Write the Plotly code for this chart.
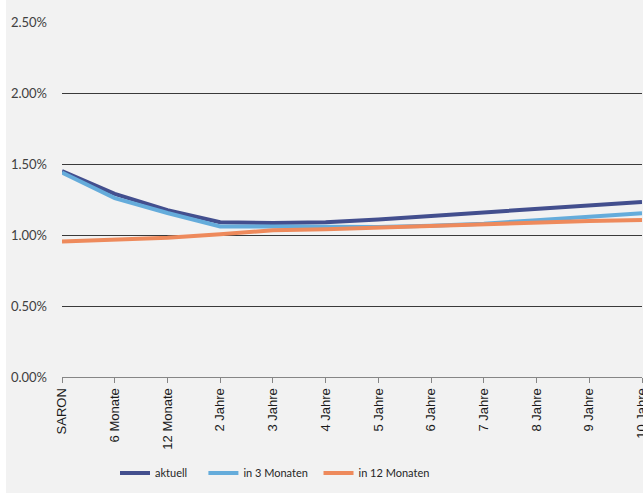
import plotly.graph_objects as go

categories = ["SARON", "6 Monate", "12 Monate", "2 Jahre", "3 Jahre", "4 Jahre",
              "5 Jahre", "6 Jahre", "7 Jahre", "8 Jahre", "9 Jahre", "10 Jahre"]
aktuell = [1.45, 1.29, 1.175, 1.09, 1.085, 1.09, 1.11, 1.134, 1.158, 1.18, 1.205, 1.233]
in_3_monaten = [1.44, 1.26, 1.155, 1.06, 1.06, 1.057, 1.056, 1.065, 1.08, 1.104, 1.127, 1.153]
in_12_monaten = [0.955, 0.965, 0.98, 1.005, 1.033, 1.04, 1.052, 1.065, 1.08, 1.092, 1.098, 1.105]
y_tick_values = [0, 0.5, 1.0, 1.5, 2.0, 2.5]
y_tick_labels = ["0.00%", "0.50%", "1.00%", "1.50%", "2.00%", "2.50%"]

series = [
    ("aktuell", aktuell, "#434f8e", 4),
    ("in 3 Monaten", in_3_monaten, "#65acdb", 2),
    ("in 12 Monaten", in_12_monaten, "#ee8a5c", 0),
]

xpos = list(range(len(categories)))

fig = go.Figure()
for name, vals, color, pad in series:
    fig.add_trace(go.Scatter(
        x=xpos, y=vals, name=name + "\u00a0" * pad, mode="lines",
        line=dict(color=color, width=4),
    ))

W, H = 643, 493
ml, mr, mt, mb = 62, 1, 22, 116
pw, ph = W - ml - mr, H - mt - mb

fig.update_layout(
    width=W, height=H,
    margin=dict(l=ml, r=mr, t=mt, b=mb, pad=0, autoexpand=False),
    paper_bgcolor="white",
    plot_bgcolor="rgba(0,0,0,0)",
    font=dict(family="Lato, Noto Sans, sans-serif", size=12, color="#404040"),
    showlegend=True,
    legend=dict(
        orientation="h", x=(115 - ml) / pw, xanchor="left",
        y=-(473 - (mt + ph)) / ph, yanchor="middle",
        font=dict(family="Lato, sans-serif", size=11, color="#262626"),
        bgcolor="rgba(0,0,0,0)", tracegroupgap=0,
    ),
    shapes=[dict(
        type="rect", xref="paper", yref="paper", layer="below",
        x0=(6 - ml) / pw, x1=(W + 2 - ml) / pw,
        y0=-(mb + 2) / ph, y1=1 + (mt + 2) / ph,
        fillcolor="#f2f2f2", line=dict(width=0),
    )],
)

fig.update_xaxes(
    range=[0, len(categories) - 1],
    tickmode="array", tickvals=xpos, ticktext=categories,
    tickangle=-90, ticks="outside", ticklen=5, tickcolor="#868686",
    showline=True, linecolor="#868686", linewidth=1,
    showgrid=False, zeroline=False, automargin=False,
    ticklabeloverflow="allow",
    tickfont=dict(family="Liberation Sans, Arial, sans-serif", size=13, color="#1a1a1a"),
)
fig.update_yaxes(
    range=[0, 2.5], tickmode="array",
    tickvals=y_tick_values, ticktext=y_tick_labels,
    showgrid=True, gridcolor="#3a3a3a", gridwidth=1,
    zeroline=False, showline=False, ticks="", automargin=False,
    ticklabelstandoff=14,
    tickfont=dict(family="Lato, sans-serif", size=13, color="#404040"),
)

fig.write_html("out.html")
